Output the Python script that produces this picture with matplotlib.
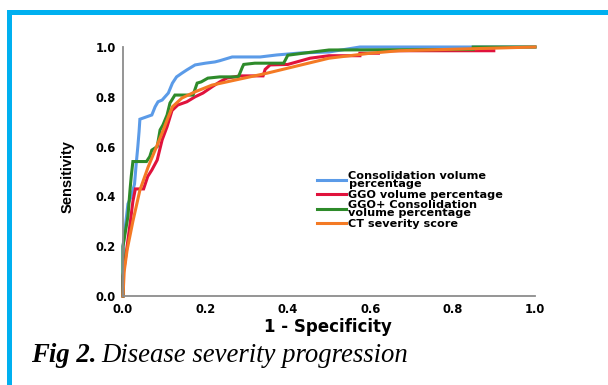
import matplotlib
matplotlib.use("Agg")
import matplotlib.pyplot as plt
from matplotlib.patches import Rectangle

# ---- data ----
labels = ["Consolidation volume\npercentage",
          "GGO volume percentage",
          "GGO+ Consolidation\nvolume percentage",
          "CT severity score"]

cons_x = [0, 0, 0.005, 0.012, 0.02, 0.028, 0.032, 0.036, 0.039, 0.041, 0.07, 0.078, 0.085, 0.095,
          0.11, 0.12, 0.13, 0.143, 0.155, 0.175, 0.2, 0.223, 0.235, 0.265, 0.333, 0.373,
          0.43, 0.5, 0.575, 1.0]
cons_y = [0, 0.2, 0.27, 0.37, 0.40, 0.45, 0.53, 0.6, 0.66, 0.71, 0.727, 0.76, 0.78, 0.787,
          0.815, 0.855, 0.88, 0.895, 0.908, 0.928, 0.935, 0.94, 0.945, 0.96, 0.96, 0.968,
          0.976, 0.98, 1.0, 1.0]

ggo_x = [0, 0, 0.01, 0.018, 0.024, 0.03, 0.05, 0.06, 0.07, 0.083, 0.095, 0.107, 0.119,
         0.133, 0.155, 0.175, 0.194, 0.216, 0.235, 0.252, 0.284, 0.34, 0.345, 0.357, 0.4,
         0.454, 0.5, 0.575, 0.575, 0.62, 0.62, 0.9]
ggo_y = [0, 0.08, 0.2, 0.3, 0.38, 0.43, 0.43, 0.48, 0.506, 0.546, 0.627, 0.68, 0.745,
         0.767, 0.78, 0.80, 0.815, 0.84, 0.86, 0.875, 0.884, 0.884, 0.91, 0.928, 0.93,
         0.955, 0.965, 0.965, 0.975, 0.975, 0.985, 0.985]

comb_x = [0, 0, 0.012, 0.017, 0.02, 0.024, 0.057, 0.065, 0.07, 0.083, 0.09, 0.097, 0.107,
          0.114, 0.126, 0.17, 0.18, 0.19, 0.206, 0.235, 0.28, 0.29, 0.293, 0.32, 0.39, 0.40,
          0.437, 0.5, 0.85, 0.85, 1.0]
comb_y = [0, 0.2, 0.32, 0.425, 0.48, 0.54, 0.54, 0.56, 0.586, 0.6, 0.667, 0.687, 0.727,
          0.775, 0.807, 0.807, 0.855, 0.86, 0.875, 0.88, 0.88, 0.92, 0.93, 0.935, 0.935,
          0.967, 0.975, 0.988, 0.99, 1.0, 1.0]

ct_x = [0, 0.003, 0.01, 0.024, 0.041, 0.061, 0.078, 0.095, 0.109, 0.12, 0.143, 0.175,
        0.216, 0.28, 0.35, 0.5, 0.6, 0.67, 1.0]
ct_y = [0, 0.1, 0.185, 0.30, 0.425, 0.518, 0.586, 0.655, 0.715, 0.76, 0.795, 0.82,
        0.847, 0.87, 0.895, 0.955, 0.975, 0.985, 1.0]

xticks = [0.0, 0.2, 0.4, 0.6, 0.8, 1.0]
yticks = [0.0, 0.2, 0.4, 0.6, 0.8, 1.0]

colors = ["#5b9be8", "#e0123c", "#2e8b2a", "#f47a24"]

# ---- figure ----
W, H = 608, 385
fig = plt.figure(figsize=(W / 100, H / 100), dpi=100)
fig.patch.set_facecolor("white")

# cyan frame (left and top visible)
fig.patches.append(Rectangle((7 / W, 0), 5 / W, (H - 10) / H, transform=fig.transFigure,
                             facecolor="#00b0f0", edgecolor="none"))
fig.patches.append(Rectangle((7 / W, (H - 15) / H), (W - 7) / W, 5 / H, transform=fig.transFigure,
                             facecolor="#00b0f0", edgecolor="none"))

ax = fig.add_axes([123 / W, (H - 296) / H, 412 / W, 249 / H])
lw = 2.2
series = [(cons_x, cons_y), (ggo_x, ggo_y), (comb_x, comb_y), (ct_x, ct_y)]
order = [0, 2, 1, 3]
handles = [None] * 4
for i in order:
    x, y = series[i]
    (h,) = ax.plot(x, y, color=colors[i], lw=lw, clip_on=False, solid_joinstyle="miter",
                   label=labels[i], zorder=2 + i * 0.1)
    handles[i] = h

ax.set_xlim(0, 1)
ax.set_ylim(0, 1)
ax.set_xticks(xticks)
ax.set_yticks(yticks)
ax.set_xticklabels([f"{t:.1f}" for t in xticks])
ax.set_yticklabels([f"{t:.1f}" for t in yticks])
ax.tick_params(length=0, pad=5)
for lab in ax.get_xticklabels() + ax.get_yticklabels():
    lab.set_fontfamily("DejaVu Sans")
    lab.set_fontweight("bold")
    lab.set_fontsize(8.3)
for s in ["top", "right"]:
    ax.spines[s].set_visible(False)
for s in ["left", "bottom"]:
    ax.spines[s].set_color("#8c8c8c")
    ax.spines[s].set_linewidth(1.3)

fig.text(328 / W, 1 - 327 / H, "1 - Specificity", ha="center", va="center",
         fontfamily="DejaVu Sans", fontweight="bold", fontsize=12)
fig.text(68 / W, 1 - 177 / H, "Sensitivity", ha="center", va="center", rotation=90,
         fontfamily=["Liberation Sans Narrow", "Liberation Sans"], fontweight="bold", fontsize=10.5)

leg = ax.legend(handles=handles, labels=labels, loc="upper left",
                bbox_to_anchor=((317 - 123) / 412, (296 - 171) / 249),
                frameon=False, prop={"family": "DejaVu Sans", "weight": "bold", "size": 8.1},
                handlelength=2.6, handletextpad=0.2, labelspacing=0.05, borderpad=0,
                borderaxespad=0)
for t in leg.get_texts():
    t.set_linespacing(0.75)

t1 = fig.text(31 / W, 1 - 355 / H, "Fig 2.", ha="left", va="center",
              fontfamily="Liberation Serif", fontweight="bold", fontstyle="italic", fontsize=19.3)
fig.canvas.draw()
bb = t1.get_window_extent()
fig.text((bb.x1 + 5) / W, 1 - 355 / H, "Disease severity progression", ha="left", va="center",
         fontfamily="Liberation Serif", fontstyle="italic", fontsize=19.3)

fig.savefig("out.png", dpi=100)
